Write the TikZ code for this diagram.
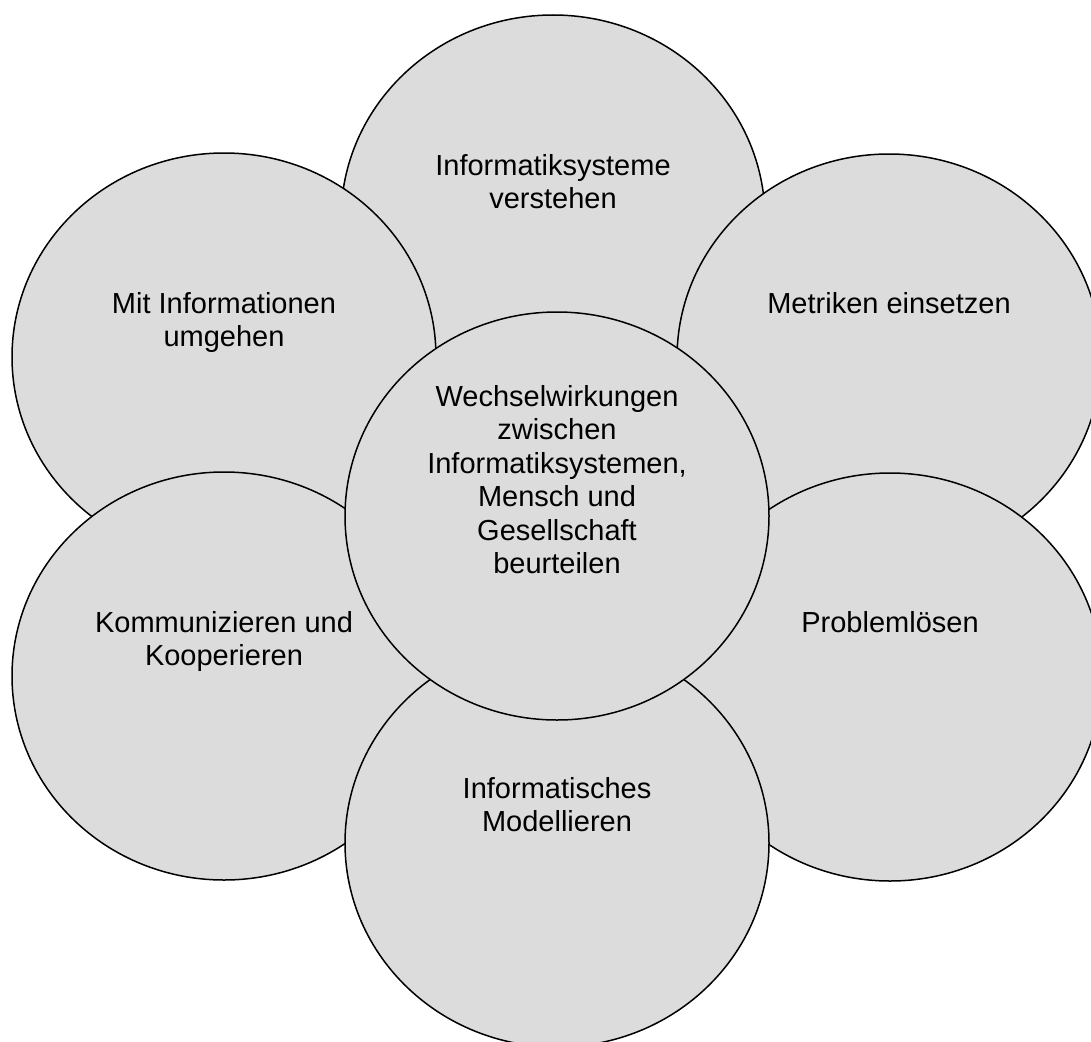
\documentclass[tikz,border=0pt]{standalone}
\usepackage{fontspec}
\setmainfont{Liberation Sans}
\usetikzlibrary{shapes.geometric}
\definecolor{bubblegray}{RGB}{220,220,220}
\begin{document}
\begin{tikzpicture}[x=1pt,y=-1pt,
bubble/.style={ellipse,draw,line width=1.5pt,fill=bubblegray,
  minimum width=424pt,minimum height=408pt,inner sep=0pt},
caption/.style={anchor=north,align=center,inner sep=0pt,
  font=\fontsize{29}{33.5}\selectfont}]
\useasboundingbox (0,0) rectangle (1091,1041);
\clip (0,0) rectangle (1091,1041);
% outer circles, back to front
\node[bubble] (Sys) at (553,219) {};
\node[bubble] (Info) at (224,357) {};
\node[bubble] (Metr) at (889,358) {};
\node[bubble] (Komm) at (224,676) {};
\node[bubble] (Prob) at (890,677) {};
\node[bubble] (Mod) at (557,843) {};
% centre circle on top
\node[bubble] (Wech) at (557,516) {};
% texts
\node[caption] (Sys-t) at ([yshift=65pt]Sys.center) {Informatiksysteme\\verstehen};
\node[caption] (Info-t) at ([yshift=65pt]Info.center) {Mit Informationen\\umgehen};
\node[caption] (Metr-t) at ([yshift=66pt]Metr.center) {Metriken einsetzen};
\node[caption] (Komm-t) at ([yshift=65pt]Komm.center) {Kommunizieren und\\Kooperieren};
\node[caption] (Prob-t) at ([yshift=66pt]Prob.center) {Problemlösen};
\node[caption] (Mod-t) at ([yshift=66pt]Mod.center) {Informatisches\\Modellieren};
\node[caption] (Wech-t) at ([yshift=131pt]Wech.center) {Wechselwirkungen\\zwischen\\Informatiksystemen,\\Mensch und\\Gesellschaft\\beurteilen};
\end{tikzpicture}
\end{document}
